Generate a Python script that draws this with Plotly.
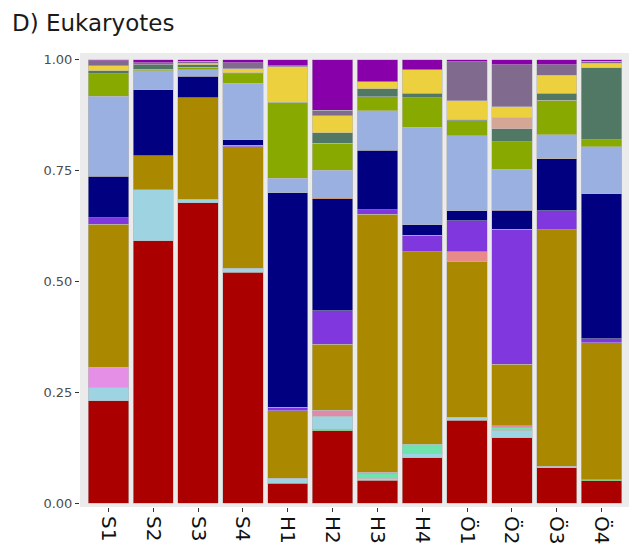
import plotly.graph_objects as go

title = 'D) Eukaryotes'
samples = ['S1', 'S2', 'S3', 'S4', 'H1', 'H2', 'H3', 'H4', 'Ö1', 'Ö2', 'Ö3', 'Ö4']

# relative abundances per taxon, bottom of the stack first
red       = [.231, .591, .677, .521, .045, .163, .051, .102, .187, .147, .080, .050]
green     = [0, 0, 0, 0, 0, .003, 0, 0, 0, 0, 0, .003]
lightblue = [.030, .116, .008, .008, .011, .030, .005, .009, .006, .017, .003, 0]
mint      = [0, 0, 0, 0, 0, 0, .010, .021, 0, .006, 0, 0]
lilac     = [.045, 0, 0, 0, 0, 0, 0, 0, 0, 0, 0, 0]
rose      = [0, 0, 0, 0, 0, .013, .003, 0, 0, .004, 0, 0]
gold      = [.323, .076, .229, .275, .152, .149, .582, .435, .351, .139, .533, .309]
salmon    = [0, 0, 0, 0, 0, 0, 0, 0, .023, 0, 0, 0]
purple    = [.014, 0, 0, .003, .008, .076, .010, .037, .070, .305, .043, .009]
navy      = [.094, .149, .049, .012, .484, .252, .135, .024, .022, .042, .117, .327]
orange    = [0, 0, 0, 0, 0, .004, 0, 0, 0, .002, .002, 0]
peri      = [.180, .043, .014, .128, .032, .061, .089, .219, .169, .091, .053, .106]
olive     = [.051, .003, .006, .021, .172, .060, .031, .067, .034, .062, .078, .015]
slate     = [.007, .010, .005, .003, 0, .024, .018, .010, .003, .029, .015, .163]
peach     = [0, 0, 0, 0, 0, 0, 0, 0, 0, .025, 0, 0]
yellow    = [.011, 0, .004, .008, .080, .038, .016, .053, .042, .025, .041, .010]
greypurp  = [.011, .005, .004, .014, .002, .013, 0, 0, .088, .094, .023, .004]
magenta   = [.003, .007, .004, .007, .014, .114, .050, .023, .005, .012, .012, .004]

layers = [
    (red, '#AA0000'), (green, '#55D455'), (lightblue, '#9ED3E2'), (mint, '#6FE3AE'),
    (lilac, '#E68FE6'), (rose, '#E08AAA'), (gold, '#AA8800'), (salmon, '#E88A8A'),
    (purple, '#8037DE'), (navy, '#000080'), (orange, '#DE6A2C'), (peri, '#9AB0E0'),
    (olive, '#88AA00'), (slate, '#507865'), (peach, '#D4A696'), (yellow, '#EDD03E'),
    (greypurp, '#806A8D'), (magenta, '#8800AA'),
]

fig = go.Figure()
for vals, col in layers:
    fig.add_trace(go.Bar(
        x=samples, y=[v if v else None for v in vals],
        marker=dict(color=col, line=dict(color='rgba(185,185,185,0.7)', width=0.8)),
        showlegend=False))

# page body has an 8px margin, so the figure is 8px smaller and shifted
fig.update_layout(
    barmode='stack', bargap=0.1,
    width=629, height=539,
    margin=dict(l=72, r=5, t=45, b=40),
    paper_bgcolor='white', plot_bgcolor='#EBEBEB',
    font=dict(family='DejaVu Sans', color='#1a1a1a'),
    title=dict(text=title, x=4 / 629, xanchor='left', xref='container',
               y=1 - 15 / 539, yanchor='middle', yref='container',
               font=dict(size=23, color='#1a1a1a')),
)
fig.update_xaxes(range=[-0.636, 11.68], showgrid=False, zeroline=False,
                 tickangle=90, ticks='outside', ticklen=4, tickcolor='#333333',
                 tickfont=dict(size=20, color='#111111'), automargin=False)
fig.update_yaxes(range=[-0.009, 1.015], showgrid=False, zeroline=False,
                 tickvals=[0, 0.25, 0.5, 0.75, 1.0],
                 ticktext=['0.00', '0.25', '0.50', '0.75', '1.00'],
                 ticks='outside', ticklen=4, tickcolor='#333333',
                 tickfont=dict(size=13, color='#4d4d4d'), automargin=False)

fig.write_html('out.html')
